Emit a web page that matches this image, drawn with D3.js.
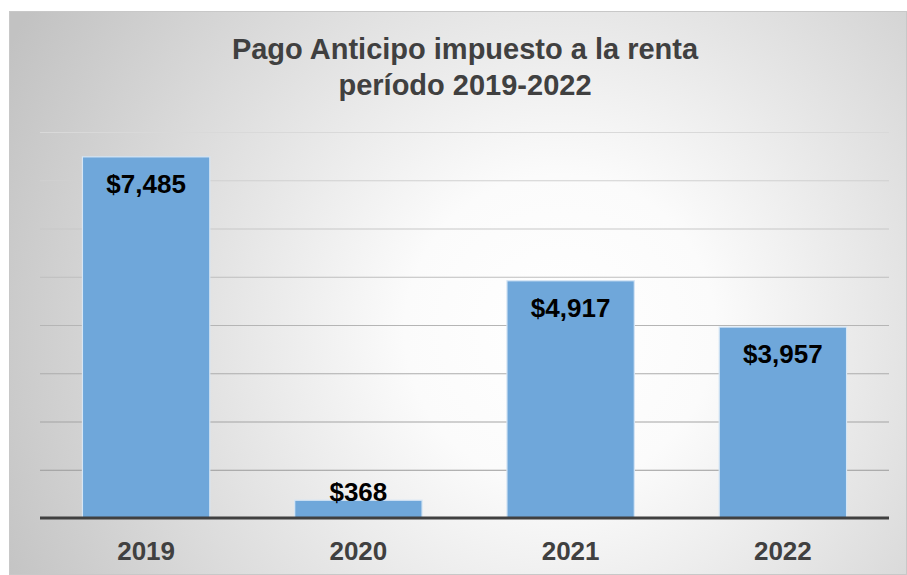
<!DOCTYPE html>
<html>
<head>
<meta charset="utf-8">
<script src="https://cdn.jsdelivr.net/npm/d3@7"></script>
<style>
  html, body { margin: 0; padding: 0; background: #fff; }
  svg { display: block; font-family: "Liberation Sans", Arial, sans-serif; }
</style>
</head>
<body>
<div id="chart"></div>
<script>
const years = ['2019', '2020', '2021', '2022'];
const amounts = [7485, 368, 4917, 3957];
const titleLines = ['Pago Anticipo impuesto a la renta', 'período 2019-2022'];
const yTicks = [1000, 2000, 3000, 4000, 5000, 6000, 7000, 8000];

const width = 907;
const height = 575;
const margin = { top: 132, right: 18, bottom: 57, left: 40 };
const innerWidth = width - margin.left - margin.right;
const innerHeight = height - margin.top - margin.bottom;

const svg = d3.select('#chart')
  .append('svg')
  .attr('width', width)
  .attr('height', height);

const defs = svg.append('defs');
const grad = defs.append('radialGradient')
  .attr('id', 'bg')
  .attr('gradientUnits', 'userSpaceOnUse')
  .attr('cx', 560).attr('cy', 330).attr('r', 620);
grad.append('stop').attr('offset', '0%').attr('stop-color', '#ffffff');
grad.append('stop').attr('offset', '25%').attr('stop-color', '#fbfbfb');
grad.append('stop').attr('offset', '100%').attr('stop-color', '#c2c2c2');

// chart area
svg.append('rect')
  .attr('x', 9.5).attr('y', 11.5)
  .attr('width', width - 10).attr('height', height - 12)
  .attr('fill', 'url(#bg)')
  .attr('stroke', '#c8c8c8')
  .attr('stroke-width', 1);

svg.append('g')
  .selectAll('text')
  .data(titleLines)
  .join('text')
  .attr('x', 465)
  .attr('y', (d, i) => 59 + i * 36)
  .attr('text-anchor', 'middle')
  .attr('font-size', 29)
  .attr('font-weight', 'bold')
  .attr('fill', '#404040')
  .text(d => d);

const g = svg.append('g')
  .attr('transform', `translate(${margin.left}, ${margin.top})`);

const x = d3.scaleBand()
  .domain(years)
  .range([0, innerWidth])
  .paddingInner(0.4)
  .paddingOuter(0.2);

const y = d3.scaleLinear()
  .domain([0, 8000])
  .range([innerHeight, 0]);

// gridlines
g.append('g')
  .call(d3.axisLeft(y).tickValues(yTicks).tickSize(-innerWidth).tickFormat(''))
  .call(a => a.select('.domain').remove())
  .call(a => a.selectAll('.tick line')
    .attr('stroke', (d, i) => d3.interpolateRgb('#9a9a9a', '#d9d9d9')(i / 7))
    .attr('stroke-width', 1.2));

g.append('g')
  .selectAll('rect')
  .data(amounts)
  .join('rect')
  .attr('x', (d, i) => x(years[i]))
  .attr('y', d => y(d))
  .attr('width', x.bandwidth())
  .attr('height', d => innerHeight - y(d))
  .attr('fill', '#6fa7da')
  .attr('stroke', '#d6e6f5')
  .attr('stroke-width', 1.2);

// baseline
g.append('line')
  .attr('x1', 0).attr('x2', innerWidth)
  .attr('y1', innerHeight).attr('y2', innerHeight)
  .attr('stroke', '#404040')
  .attr('stroke-width', 3);

// value labels
g.append('g')
  .selectAll('text')
  .data(amounts)
  .join('text')
  .attr('x', (d, i) => x(years[i]) + x.bandwidth() / 2)
  .attr('y', d => (innerHeight - y(d) > 40 ? y(d) + 36 : y(d) + 1))
  .attr('text-anchor', 'middle')
  .attr('font-size', 26)
  .attr('font-weight', 'bold')
  .attr('fill', '#000')
  .text(d => '$' + d3.format(',')(d));

// x axis
const xAxis = g.append('g')
  .attr('transform', `translate(0, ${innerHeight})`)
  .call(d3.axisBottom(x).tickSize(0).tickPadding(0));
xAxis.select('.domain').remove();
xAxis.selectAll('text')
  .attr('dy', null)
  .attr('y', 42)
  .attr('font-family', '"Liberation Sans", Arial, sans-serif')
  .attr('font-size', 26)
  .attr('font-weight', 'bold')
  .attr('fill', '#404040');
</script>
</body>
</html>
